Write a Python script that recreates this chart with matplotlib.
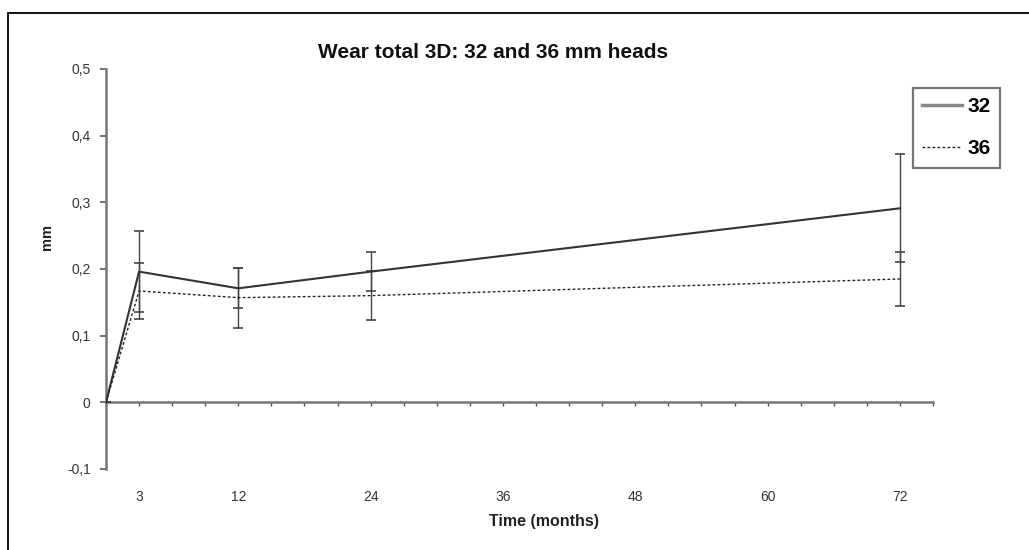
import matplotlib
matplotlib.use("Agg")
import matplotlib.pyplot as plt
from matplotlib.ticker import FuncFormatter, MultipleLocator

plt.rcParams['font.family'] = ['Liberation Sans', 'DejaVu Sans']

# data (months, wear in mm)
months = [0, 3, 12, 24, 72]
wear_32 = [0, 0.196, 0.171, 0.196, 0.291]
err_32 = [0, 0.061, 0.030, 0.029, 0.081]
wear_36 = [0, 0.167, 0.157, 0.160, 0.185]
err_36 = [0, 0.042, 0.045, 0.037, 0.040]
label_months = [3, 12, 24, 36, 48, 60, 72]
series_names = ['32', '36']

fig = plt.figure(figsize=(10.29, 5.50), dpi=100)
ax = fig.add_axes([0.1030, 0.1473, 0.8037, 0.7273])

axcol = '#777777'
txtcol = '#333333'

eb32 = ax.errorbar(months, wear_32, yerr=err_32, color='#333333', lw=1.5, ecolor='#444444',
                   elinewidth=1.0, capsize=3.5, capthick=1.2, zorder=3)
eb36 = ax.errorbar(months, wear_36, yerr=err_36, color='#222222', lw=1.0, ls=(0, (2, 1.6)),
                   ecolor='#444444', elinewidth=1.0, capsize=3.5, capthick=1.2, zorder=3)

ax.set_xlim(0, 75)
ax.set_ylim(-0.1, 0.5)

# y axis
ax.yaxis.set_major_locator(MultipleLocator(0.1))
ax.yaxis.set_major_formatter(FuncFormatter(
    lambda v, p: '0' if abs(v) < 1e-9 else ('%.1f' % v).replace('.', ',')))
ax.tick_params(axis='y', direction='out', length=4, width=1.2, color='#555555',
               labelsize=10, labelcolor=txtcol, pad=7)
ax.spines['left'].set_color(axcol)
ax.spines['left'].set_linewidth(1.8)
for s in ['top', 'right', 'bottom']:
    ax.spines[s].set_visible(False)

# x labels at the bottom, no tick marks
ax.set_xticks(label_months)
ax.tick_params(axis='x', length=0, labelsize=10, labelcolor=txtcol, pad=15)

# zero line with small ticks every 3 months
zero_ax = ax.secondary_xaxis(1 / 6)
zero_ax.set_xticks(range(0, 76, 3))
zero_ax.tick_params(axis='x', direction='out', length=3, width=1.0, color='#555555',
                    labelbottom=False)
zero_ax.spines['bottom'].set_color(axcol)
zero_ax.spines['bottom'].set_linewidth(1.8)

ax.set_xlabel('Time (months)', fontsize=11.5, fontweight='bold', color='#222222')
ax.xaxis.set_label_coords(0.530, -0.113)
ax.set_ylabel('mm', fontsize=10.5, fontweight='bold', color='#222222')
ax.yaxis.set_label_coords(-0.063, 0.58)

fig.text(0.479, 0.905, 'Wear total 3D: 32 and 36 mm heads', ha='center', va='center',
         fontsize=15, fontweight='bold', color='#111111')

leg = ax.legend([eb32.lines[0], eb36.lines[0]], series_names, loc='upper left',
                bbox_to_anchor=(913 / 1029, 1 - 88 / 550), bbox_transform=fig.transFigure,
                frameon=True, fancybox=False, handlelength=1.9,
                prop={'weight': 'bold', 'size': 15}, borderpad=0.45, labelspacing=1.1,
                handletextpad=0.25, borderaxespad=0)
leg.get_frame().set_edgecolor('#555555')
leg.get_frame().set_linewidth(1.6)
leg.legend_handles[0].set_color('#888888')
leg.legend_handles[0].set_linewidth(2.5)
leg.legend_handles[1].set_color('#222222')

# outer frame (left and top edges visible)
frame = plt.Rectangle((8 / 1029, -0.1), 1.1, 1 - 13 / 550 + 0.1, transform=fig.transFigure,
                      fill=False, edgecolor='black', lw=1.3)
fig.add_artist(frame)

fig.savefig('out.png', dpi=100)
